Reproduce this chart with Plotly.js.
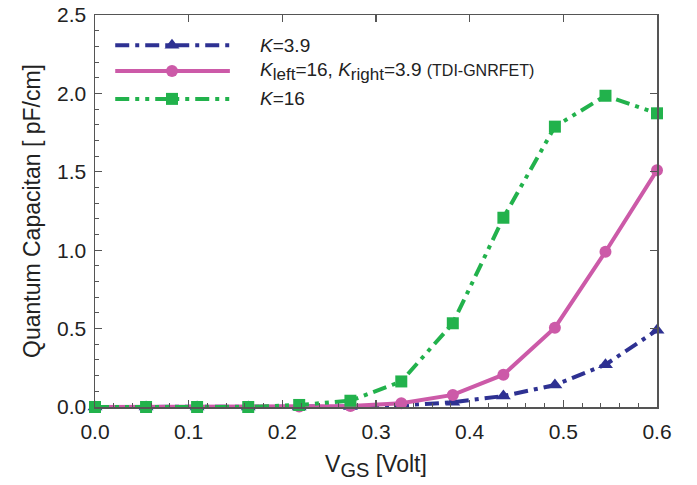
<!DOCTYPE html>
<html><head><meta charset="utf-8">
<script src="https://cdn.plot.ly/plotly-3.0.1.min.js"></script>
<style>html,body{margin:0;padding:0;background:#fff}#c{width:697px;height:485px}</style>
</head><body><div id="c"></div>
<script>
// Data
const vgs = [0, 0.0545, 0.109, 0.1636, 0.218, 0.2727, 0.327, 0.382, 0.436, 0.491, 0.545, 0.6];
const cqK39 = [0, 0, 0, 0, 0, 0.003, 0.01, 0.03, 0.07, 0.14, 0.27, 0.49];
const cqTDI = [0, 0, 0, 0, 0.003, 0.006, 0.024, 0.077, 0.206, 0.506, 0.99, 1.51];
const cqK16 = [0, 0, 0, 0, 0.013, 0.04, 0.163, 0.534, 1.207, 1.788, 1.985, 1.873];
const seriesNames = [
  '<i>K</i>=3.9',
  '<i>K</i><sub><span style="font-size:17px">left</span></sub>=16, <i>K</i><sub><span style="font-size:17px">right</span></sub>=3.9 <span style="font-size:16px">(TDI-GNRFET)</span>',
  '<i>K</i>=16'
];
const xTicks = [0, 0.1, 0.2, 0.3, 0.4, 0.5, 0.6];
const yTicks = [0, 0.5, 1.0, 1.5, 2.0, 2.5];

const BLUE = '#2e3192', PINK = '#cc5aa8', GREEN = '#22b24c';
const styles = [
  {color: BLUE, dash: '14px,6px,4px,6px', symbol: 'triangle-up', size: 13},
  {color: PINK, dash: 'solid', symbol: 'circle', size: 12},
  {color: GREEN, dash: '14px,6px,4px,6px,4px,6px', symbol: 'square', size: 12}
];
const ys = [cqK39, cqTDI, cqK16];

const traces = ys.map((y, i) => ({
  x: vgs, y: y, type: 'scatter', mode: 'lines+markers', showlegend: false, cliponaxis: false,
  line: {color: styles[i].color, width: 4, dash: styles[i].dash},
  marker: {color: styles[i].color, symbol: styles[i].symbol, size: styles[i].size},
  hoverinfo: 'skip'
}));

// legend samples on a hidden 0..1 overlay axis
const legY = [0.923, 0.857, 0.786];
const legX = [0.036, 0.24];
const legMarkX = [0.137];
const annotations = [];
styles.forEach((s, i) => {
  traces.push({
    x: legX, y: [legY[i], legY[i]], xaxis: 'x3', yaxis: 'y3',
    type: 'scatter', mode: 'lines', showlegend: false, hoverinfo: 'skip',
    line: {color: s.color, width: 4, dash: s.dash}
  });
  traces.push({
    x: legMarkX, y: [legY[i]], xaxis: 'x3', yaxis: 'y3',
    type: 'scatter', mode: 'markers', showlegend: false, hoverinfo: 'skip',
    marker: {color: s.color, symbol: s.symbol, size: s.size, opacity: 1}
  });
  annotations.push({
    xref: 'x3', yref: 'y3', x: 0.29, y: legY[i], xanchor: 'left', yanchor: 'middle',
    text: seriesNames[i], showarrow: false,
    font: {family: 'Liberation Sans, Arial, sans-serif', size: 19, color: '#222'}
  });
});

const axFont = {family: 'Liberation Sans, Arial, sans-serif', size: 21, color: '#222'};
const titleFont = {family: 'Liberation Sans, Arial, sans-serif', size: 23, color: '#222'};
const layout = {
  width: 697, height: 485,
  margin: {l: 95, r: 40, t: 15, b: 78},
  paper_bgcolor: '#fff', plot_bgcolor: '#fff',
  showlegend: false,
  font: axFont,
  xaxis: {
    range: [0, 0.6], tickvals: xTicks, ticktext: xTicks.map(v => v.toFixed(1)),
    ticks: 'inside', ticklen: 7, tickwidth: 1.2, tickcolor: '#555',
    minor: {dtick: 0.02, ticks: 'inside', ticklen: 4, tickcolor: '#555', tickwidth: 1},
    showline: true, linecolor: '#555', linewidth: 1.5, showgrid: false, zeroline: false,
    tickfont: axFont, ticklabelstandoff: 5,
    title: {text: 'V<sub><span style="font-size:20px">GS</span></sub> [Volt]', font: titleFont, standoff: 14}
  },
  yaxis: {
    range: [0, 2.5], tickvals: yTicks, ticktext: yTicks.map(v => v.toFixed(1)),
    ticks: 'inside', ticklen: 7, tickwidth: 1.2, tickcolor: '#555',
    minor: {dtick: 0.1, ticks: 'inside', ticklen: 4, tickcolor: '#555', tickwidth: 1},
    showline: true, linecolor: '#555', linewidth: 1.5, showgrid: false, zeroline: false,
    tickfont: axFont, ticklabelstandoff: 3,
    title: {text: 'Quantum Capacitan [ pF/cm]', font: titleFont, standoff: 10}
  },
  xaxis2: {overlaying: 'x', side: 'top', range: [0, 0.6], tickvals: xTicks, showticklabels: false,
    ticks: 'inside', ticklen: 7, tickwidth: 1.2, tickcolor: '#555',
    showline: true, linecolor: '#555', linewidth: 1.5, showgrid: false, zeroline: false},
  yaxis2: {overlaying: 'y', side: 'right', range: [0, 2.5], tickvals: yTicks, showticklabels: false,
    ticks: 'inside', ticklen: 7, tickwidth: 1.2, tickcolor: '#555',
    showline: true, linecolor: '#555', linewidth: 1.5, showgrid: false, zeroline: false},
  xaxis3: {overlaying: 'x', range: [0, 1], visible: false},
  yaxis3: {overlaying: 'y', range: [0, 1], visible: false},
  annotations: annotations
};
// dummy trace so the top/right axes are drawn
traces.unshift({x: [], y: [], xaxis: 'x2', yaxis: 'y2', type: 'scatter', showlegend: false});
Plotly.newPlot('c', traces, layout, {displayModeBar: false, staticPlot: true});
</script></body></html>
